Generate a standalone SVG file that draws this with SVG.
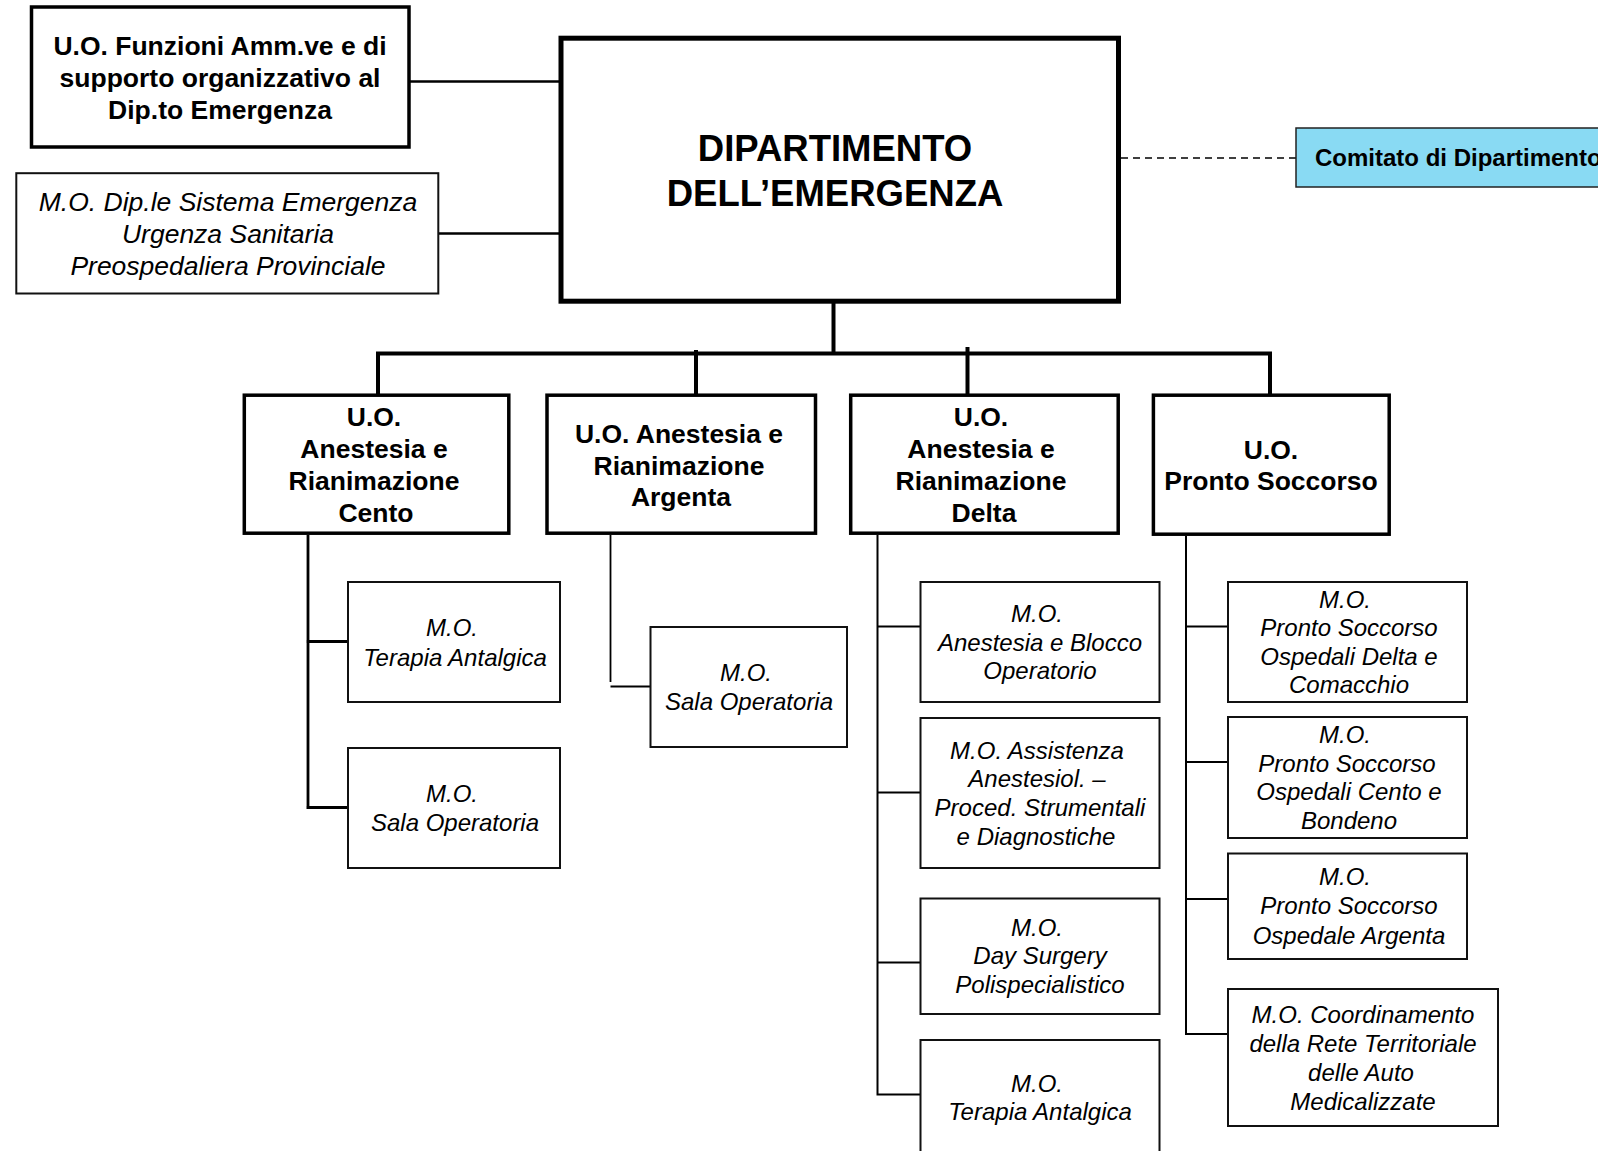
<svg xmlns="http://www.w3.org/2000/svg" width="1598" height="1151" viewBox="0 0 1598 1151">
<style>
text{font-family:"Liberation Sans",Arial,sans-serif;fill:#000;text-anchor:middle}
.b{font-weight:bold;font-size:26.5px}
.t{font-weight:bold;font-size:36.5px}
.i{font-style:italic;font-size:26.5px}
.s{font-style:italic;font-size:24px}
.c{font-weight:bold;font-size:24px;text-anchor:start}
.k1{fill:#fff;stroke:#000;stroke-width:5}
.k2{fill:#fff;stroke:#000;stroke-width:3.5}
.k3{fill:#fff;stroke:#111;stroke-width:2}
.com{fill:#89DAF3;stroke:#222;stroke-width:1.5}
.ln{fill:none;stroke:#000}
</style>
<rect width="1598" height="1151" fill="#fff"/>
<g id="connectors">
<line class="ln" x1="409" y1="81.5" x2="559" y2="81.5" stroke-width="2.5"/>
<line class="ln" x1="439" y1="233.5" x2="559" y2="233.5" stroke-width="2.5"/>
<line class="ln" x1="1121" y1="158" x2="1296" y2="158" stroke-width="1.5" stroke-dasharray="7,5"/>
<line class="ln" x1="833.5" y1="303" x2="833.5" y2="352" stroke-width="4"/>
<line class="ln" x1="376" y1="353.5" x2="1272" y2="353.5" stroke-width="4"/>
<line class="ln" x1="378" y1="353" x2="378" y2="394" stroke-width="4"/>
<line class="ln" x1="696" y1="350" x2="696" y2="394" stroke-width="4"/>
<line class="ln" x1="967.5" y1="347" x2="967.5" y2="394" stroke-width="4"/>
<line class="ln" x1="1270" y1="352" x2="1270" y2="400" stroke-width="4"/>
<path class="ln" d="M308 535 V808 M306.5 641.5 H347.5 M306.5 807.5 H347.5" stroke-width="2.8"/>
<path class="ln" d="M610.5 535 V682 M610.5 686.5 H650" stroke-width="1.8"/>
<path class="ln" d="M877.5 535 V1095 M876.5 626.5 H920 M876.5 792.5 H920 M876.5 962.5 H920 M876.5 1094.5 H920" stroke-width="2"/>
<path class="ln" d="M1186 536 V1034.5 M1185 626.5 H1228 M1185 762 H1228 M1185 899 H1228 M1185 1034 H1228" stroke-width="2"/>
</g>
<g id="n-supporto">
<rect class="k2" x="31.5" y="7" width="377.5" height="140"/>
<text class="b" x="220" y="55">U.O. Funzioni Amm.ve e di</text>
<text class="b" x="220" y="87">supporto organizzativo al</text>
<text class="b" x="220" y="119">Dip.to Emergenza</text>
</g>
<g id="n-sistema">
<rect class="k3" x="16.3" y="173.2" width="422" height="120.3"/>
<text class="i" x="228" y="211">M.O. Dip.le Sistema Emergenza</text>
<text class="i" x="228" y="243">Urgenza Sanitaria</text>
<text class="i" x="228" y="275">Preospedaliera Provinciale</text>
</g>
<g id="n-dipartimento">
<rect class="k1" x="561" y="38.2" width="557.5" height="263"/>
<text class="t" x="835" y="161">DIPARTIMENTO</text>
<text class="t" x="835" y="206">DELL’EMERGENZA</text>
</g>
<g id="n-comitato">
<rect class="com" x="1296" y="128" width="330" height="59"/>
<text class="c" x="1315" y="166">Comitato di Dipartimento</text>
</g>
<g id="n-cento">
<rect class="k2" x="244.3" y="395.2" width="264.5" height="138"/>
<text class="b" x="374" y="426">U.O.</text>
<text class="b" x="374" y="458">Anestesia e</text>
<text class="b" x="374" y="490">Rianimazione</text>
<text class="b" x="376" y="522">Cento</text>
</g>
<g id="n-argenta">
<rect class="k2" x="547" y="395.2" width="268.5" height="138"/>
<text class="b" x="679" y="443">U.O. Anestesia e</text>
<text class="b" x="679" y="475">Rianimazione</text>
<text class="b" x="681" y="506">Argenta</text>
</g>
<g id="n-delta">
<rect class="k2" x="850.7" y="395.2" width="267.5" height="138"/>
<text class="b" x="981" y="426">U.O.</text>
<text class="b" x="981" y="458">Anestesia e</text>
<text class="b" x="981" y="490">Rianimazione</text>
<text class="b" x="984" y="522">Delta</text>
</g>
<g id="n-ps">
<rect class="k2" x="1153.4" y="395.2" width="235.8" height="139"/>
<text class="b" x="1271" y="459">U.O.</text>
<text class="b" x="1271" y="490">Pronto Soccorso</text>
</g>
<g id="n-cento-ta">
<rect class="k3" x="348" y="582" width="212" height="120"/>
<text class="s" x="452" y="636">M.O.</text>
<text class="s" x="455" y="666">Terapia Antalgica</text>
</g>
<g id="n-cento-so">
<rect class="k3" x="348" y="748" width="212" height="120"/>
<text class="s" x="452" y="802">M.O.</text>
<text class="s" x="455" y="831">Sala Operatoria</text>
</g>
<g id="n-argenta-so">
<rect class="k3" x="650.5" y="627" width="196.5" height="120"/>
<text class="s" x="746" y="681">M.O.</text>
<text class="s" x="749" y="710">Sala Operatoria</text>
</g>
<g id="n-delta-ab">
<rect class="k3" x="920.5" y="582" width="239" height="120"/>
<text class="s" x="1037" y="622">M.O.</text>
<text class="s" x="1040" y="651">Anestesia e Blocco</text>
<text class="s" x="1040" y="679">Operatorio</text>
</g>
<g id="n-delta-aa">
<rect class="k3" x="920.5" y="718" width="239" height="150"/>
<text class="s" x="1037" y="759">M.O. Assistenza</text>
<text class="s" x="1037" y="787">Anestesiol. –</text>
<text class="s" x="1040" y="816">Proced. Strumentali</text>
<text class="s" x="1036" y="845">e Diagnostiche</text>
</g>
<g id="n-delta-ds">
<rect class="k3" x="920.5" y="898.5" width="239" height="115.5"/>
<text class="s" x="1037" y="936">M.O.</text>
<text class="s" x="1040" y="964">Day Surgery</text>
<text class="s" x="1040" y="993">Polispecialistico</text>
</g>
<g id="n-delta-ta">
<rect class="k3" x="920.5" y="1040" width="239" height="130"/>
<text class="s" x="1037" y="1092">M.O.</text>
<text class="s" x="1040" y="1120">Terapia Antalgica</text>
</g>
<g id="n-ps-dc">
<rect class="k3" x="1228" y="582" width="239" height="120"/>
<text class="s" x="1345" y="608">M.O.</text>
<text class="s" x="1349" y="636">Pronto Soccorso</text>
<text class="s" x="1349" y="665">Ospedali Delta e</text>
<text class="s" x="1349" y="693">Comacchio</text>
</g>
<g id="n-ps-cb">
<rect class="k3" x="1228" y="717" width="239" height="121"/>
<text class="s" x="1345" y="743">M.O.</text>
<text class="s" x="1347" y="772">Pronto Soccorso</text>
<text class="s" x="1349" y="800">Ospedali Cento e</text>
<text class="s" x="1349" y="829">Bondeno</text>
</g>
<g id="n-ps-ar">
<rect class="k3" x="1228" y="853.5" width="239" height="105.5"/>
<text class="s" x="1345" y="885">M.O.</text>
<text class="s" x="1349" y="914">Pronto Soccorso</text>
<text class="s" x="1349" y="944">Ospedale Argenta</text>
</g>
<g id="n-ps-coord">
<rect class="k3" x="1228" y="989" width="270" height="137"/>
<text class="s" x="1363" y="1023">M.O. Coordinamento</text>
<text class="s" x="1363" y="1052">della Rete Territoriale</text>
<text class="s" x="1361" y="1081">delle Auto</text>
<text class="s" x="1363" y="1110">Medicalizzate</text>
</g>
</svg>
